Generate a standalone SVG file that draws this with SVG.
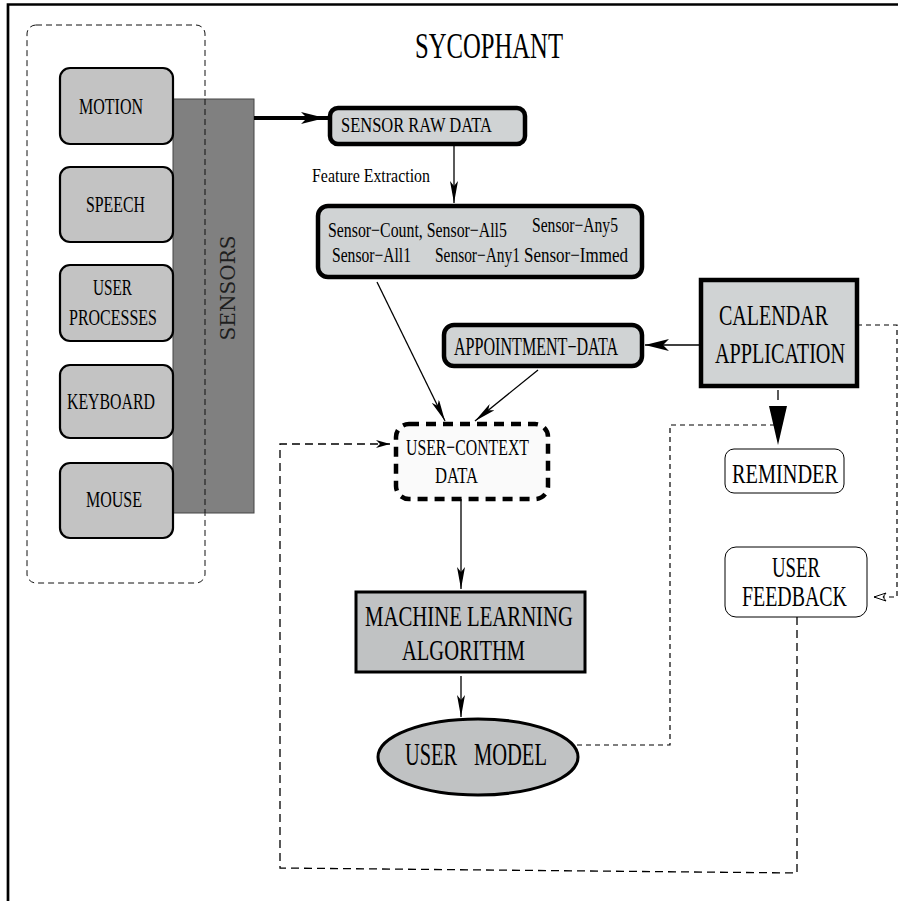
<svg xmlns="http://www.w3.org/2000/svg" width="898" height="901" viewBox="0 0 898 901">
<style>
text{font-family:"Liberation Serif","Times New Roman",serif;fill:#000;}
.sbox{fill:#c3c3c3;stroke:#000;stroke-width:2.2;}
.gbox{fill:#d0d3d4;stroke:#000;stroke-width:4.5;}
.wbox{fill:#fff;stroke:#000;stroke-width:1;}
.ln{fill:none;stroke:#000;stroke-width:1.3;}
.dash{fill:none;stroke:#000;stroke-width:1.3;stroke-dasharray:8 5;}
.dash2{fill:none;stroke:#000;stroke-width:1.2;stroke-dasharray:5 4;}
</style>
<defs>
<marker id="arr" viewBox="0 0 22 8" refX="22" refY="4" markerWidth="22" markerHeight="8" markerUnits="userSpaceOnUse" orient="auto"><path d="M0,0 L22,4 L0,8 L5,4 z" fill="#000"/></marker>
<marker id="arrS" viewBox="0 0 14 8" refX="14" refY="4" markerWidth="14" markerHeight="8" markerUnits="userSpaceOnUse" orient="auto"><path d="M0,0 L14,4 L0,8 L4,4 z" fill="#000"/></marker>
<marker id="arrM" viewBox="0 0 24 12" refX="24" refY="6" markerWidth="24" markerHeight="12" markerUnits="userSpaceOnUse" orient="auto"><path d="M0,0 L24,6 L0,12 L6,6 z" fill="#000"/></marker>
<marker id="arrO" viewBox="0 0 14 10" refX="13" refY="5" markerWidth="14" markerHeight="10" markerUnits="userSpaceOnUse" orient="auto"><path d="M1,1 L13,5 L1,9 L4,5 z" fill="#fff" stroke="#000" stroke-width="1"/></marker>
</defs>
<rect width="898" height="901" fill="#fff"/>
<path d="M8,901 L8,4.5 L898,4.5" fill="none" stroke="#000" stroke-width="2.7"/>
<text transform="translate(415,58) scale(0.685,1)" font-size="36" textLength="216" lengthAdjust="spacingAndGlyphs">SYCOPHANT</text>

<g id="sensor-group">
<rect x="27" y="25" width="178" height="558" rx="9" fill="none" stroke="#111" stroke-width="1" stroke-dasharray="6 4"/>
</g>
<g id="sensors"><rect x="173" y="99" width="81" height="414" fill="#808080" stroke="#444" stroke-width="1"/><line x1="205" y1="99" x2="205" y2="513" stroke="#111" stroke-width="1" stroke-dasharray="6 4"/><text transform="translate(235,288) rotate(-90)" text-anchor="middle" font-size="20" textLength="105" lengthAdjust="spacingAndGlyphs" style="fill:#1e1e1e;font-family:'DejaVu Serif',serif">SENSORS</text></g>
<g id="motion"><rect class="sbox" x="60" y="68" width="113" height="76" rx="10"/><text transform="translate(79,114) scale(0.696,1)" font-size="23" textLength="92" lengthAdjust="spacingAndGlyphs">MOTION</text></g>
<g id="speech"><rect class="sbox" x="60" y="167" width="113" height="75" rx="10"/><text transform="translate(86,212) scale(0.689,1)" font-size="23" textLength="85.6" lengthAdjust="spacingAndGlyphs">SPEECH</text></g>
<g id="user-processes"><rect class="sbox" x="60" y="265" width="113" height="76" rx="10"/><text transform="translate(93,295) scale(0.663,1)" font-size="23" textLength="58.8" lengthAdjust="spacingAndGlyphs">USER</text><text transform="translate(69,325) scale(0.695,1)" font-size="23" textLength="126.6" lengthAdjust="spacingAndGlyphs">PROCESSES</text></g>
<g id="keyboard"><rect class="sbox" x="60" y="365" width="113" height="73" rx="10"/><text transform="translate(67,409) scale(0.689,1)" font-size="23" textLength="127.7" lengthAdjust="spacingAndGlyphs">KEYBOARD</text></g>
<g id="mouse"><rect class="sbox" x="60" y="463" width="113" height="75" rx="10"/><text transform="translate(86,507) scale(0.696,1)" font-size="23" textLength="80.5" lengthAdjust="spacingAndGlyphs">MOUSE</text></g>

<g id="sensor-raw-data"><rect class="gbox" x="330" y="108" width="195" height="36" rx="8"/><text transform="translate(341,132) scale(0.727,1)" font-size="22" textLength="207.7" lengthAdjust="spacingAndGlyphs">SENSOR RAW DATA</text></g>
<text transform="translate(312,182) scale(0.895,1)" font-size="19" textLength="131.8" lengthAdjust="spacingAndGlyphs">Feature Extraction</text>
<g id="features"><rect class="gbox" x="318" y="206" width="324" height="71" rx="10"/>
<text transform="translate(328,237) scale(0.755,1)" font-size="21" textLength="237" lengthAdjust="spacingAndGlyphs">Sensor−Count, Sensor−All5</text>
<text transform="translate(532,232) scale(0.743,1)" font-size="21" textLength="115.7" lengthAdjust="spacingAndGlyphs">Sensor−Any5</text>
<text transform="translate(332,262) scale(0.743,1)" font-size="21" textLength="106.3" lengthAdjust="spacingAndGlyphs">Sensor−All1</text>
<text transform="translate(435,262) scale(0.735,1)" font-size="21" textLength="115.6" lengthAdjust="spacingAndGlyphs">Sensor−Any1</text>
<text transform="translate(524,262) scale(0.81,1)" font-size="21" textLength="128.4" lengthAdjust="spacingAndGlyphs">Sensor−Immed</text></g>
<g id="appointment-data"><rect class="gbox" x="444" y="325" width="198" height="41" rx="10"/><text transform="translate(454,355) scale(0.631,1)" font-size="25" textLength="260" lengthAdjust="spacingAndGlyphs">APPOINTMENT−DATA</text></g>
<g id="calendar-application"><rect class="gbox" x="701" y="280" width="156" height="106"/><text transform="translate(719,325) scale(0.667,1)" font-size="30" textLength="163.4" lengthAdjust="spacingAndGlyphs">CALENDAR</text><text transform="translate(715,363) scale(0.661,1)" font-size="30" textLength="196.7" lengthAdjust="spacingAndGlyphs">APPLICATION</text></g>
<g id="reminder"><rect class="wbox" x="725" y="449" width="119" height="44" rx="9"/><text transform="translate(732,483) scale(0.752,1)" font-size="27" textLength="141" lengthAdjust="spacingAndGlyphs">REMINDER</text></g>
<g id="user-feedback"><rect class="wbox" x="725" y="547" width="142" height="70" rx="11"/><text transform="translate(772,577) scale(0.648,1)" font-size="29" textLength="74.1" lengthAdjust="spacingAndGlyphs">USER</text><text transform="translate(742,606) scale(0.686,1)" font-size="29" textLength="153" lengthAdjust="spacingAndGlyphs">FEEDBACK</text></g>
<g id="user-context-data"><rect x="396" y="424" width="152" height="75" rx="13" fill="#fafafa" stroke="#000" stroke-width="4.5" stroke-dasharray="10 7"/><text transform="translate(406,455) scale(0.658,1)" font-size="24" textLength="186.9" lengthAdjust="spacingAndGlyphs">USER−CONTEXT</text><text transform="translate(435,483) scale(0.645,1)" font-size="24" textLength="66.7" lengthAdjust="spacingAndGlyphs">DATA</text></g>
<g id="machine-learning"><rect x="356" y="592" width="229" height="80" fill="#c0c2c3" stroke="#000" stroke-width="3"/><text transform="translate(365,626) scale(0.715,1)" font-size="29" textLength="290.9" lengthAdjust="spacingAndGlyphs">MACHINE LEARNING</text><text transform="translate(402,660) scale(0.707,1)" font-size="29" textLength="174" lengthAdjust="spacingAndGlyphs">ALGORITHM</text></g>
<g id="user-model"><ellipse cx="478" cy="757" rx="100" ry="38" fill="#c0c2c3" stroke="#000" stroke-width="3"/><text transform="translate(405,765) scale(0.64,1)" font-size="32"><tspan x="0" y="0" textLength="81.3" lengthAdjust="spacingAndGlyphs">USER</tspan> <tspan x="107.8" y="0" textLength="114" lengthAdjust="spacingAndGlyphs">MODEL</tspan></text></g>

<g id="connectors">
<line x1="254" y1="118" x2="325" y2="118" stroke="#000" stroke-width="4" marker-end="url(#arrM)"/>
<rect x="325" y="116" width="3" height="4" fill="#000"/>
<line class="ln" x1="454" y1="144" x2="454" y2="203" marker-end="url(#arr)"/>
<line class="ln" x1="377" y1="282" x2="445" y2="421" marker-end="url(#arr)"/>
<line class="ln" x1="538" y1="370" x2="475" y2="421" marker-end="url(#arr)"/>
<line class="ln" x1="701" y1="345" x2="645" y2="345" stroke-width="1.6" marker-end="url(#arrM)"/>
<line class="ln" x1="461" y1="499" x2="461" y2="589" marker-end="url(#arr)"/>
<line class="ln" x1="461" y1="676" x2="461" y2="717" marker-end="url(#arr)"/>
<line x1="778" y1="390" x2="778" y2="406" stroke="#000" stroke-width="1.3" stroke-dasharray="10 6"/>
<polygon points="769,406 787,406 778,445" fill="#000"/>
<polyline class="dash2" points="577,745 670,745 670,425 776,425"/>
<polyline class="dash2" points="857,325 897,325 897,597 874,597" marker-end="url(#arrO)"/>
<polyline class="dash" points="797,617 797,873 280,868 280,444 390,444" marker-end="url(#arrS)"/>
</g>
</svg>
